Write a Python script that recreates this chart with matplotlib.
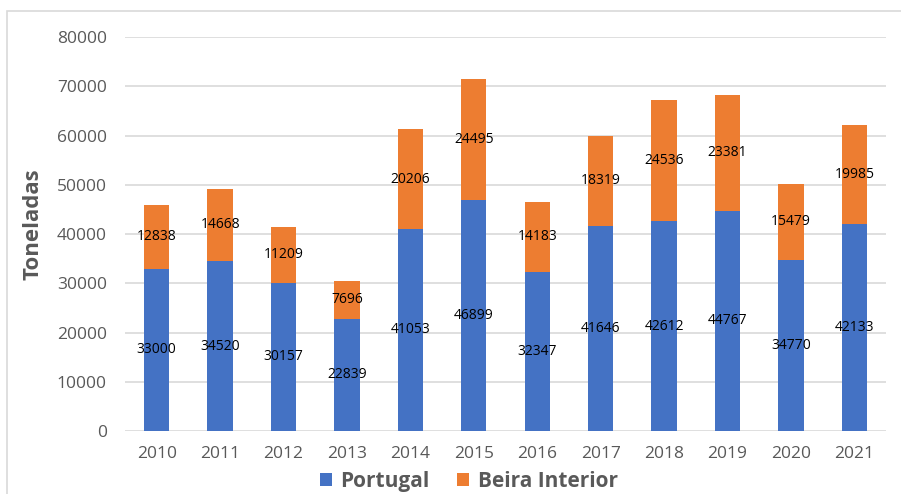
import matplotlib.pyplot as plt
from matplotlib.patches import Rectangle

years = ["2010", "2011", "2012", "2013", "2014", "2015",
         "2016", "2017", "2018", "2019", "2020", "2021"]
portugal = [33000, 34520, 30157, 22839, 41053, 46899,
            32347, 41646, 42612, 44767, 34770, 42133]
beira = [12838, 14668, 11209, 7696, 20206, 24495,
         14183, 18319, 24536, 23381, 15479, 19985]

blue = "#4472C4"
orange = "#ED7D31"
gray = "#595959"

plt.rcParams["font.family"] = ["Open Sans", "DejaVu Sans"]

fig = plt.figure(figsize=(9.01, 4.94), dpi=100)
ax = fig.add_axes([0.1387, 0.1275, 0.8447, 0.7975])

x = range(len(years))
b1 = ax.bar(x, portugal, width=0.4, color=blue, label="Portugal", zorder=3)
b2 = ax.bar(x, beira, width=0.4, bottom=portugal, color=orange,
            label="Beira Interior", zorder=3)

# data labels centred in each segment
for i in x:
    ax.text(i, portugal[i] / 2, str(portugal[i]), ha="center", va="center",
            fontsize=10, color="black", zorder=4)
    ax.text(i, portugal[i] + beira[i] / 2, str(beira[i]), ha="center",
            va="center", fontsize=10, color="black", zorder=4)

ax.set_xlim(-0.5, len(years) - 0.5)
ax.set_ylim(0, 80000)
ax.set_yticks(range(0, 80001, 10000))
ax.set_xticks(list(x))
ax.set_xticklabels(years)
ax.tick_params(axis="both", length=0, colors=gray, labelsize=12.5)
ax.tick_params(axis="y", pad=13)
ax.tick_params(axis="x", pad=11)
ax.grid(axis="y", color="#D9D9D9", linewidth=1.2, zorder=0)
for s in ax.spines.values():
    s.set_visible(False)

fig.text(33 / 901, 1 - 224 / 494, "Toneladas", rotation=90, ha="center",
         va="center", fontsize=16, fontweight="bold", color=gray)

fig.legend(handles=[b1, b2], loc="center", bbox_to_anchor=(0.52, 0.026),
           ncol=2, frameon=False, prop={"size": 15, "weight": "bold"},
           labelcolor=gray, handlelength=0.6, handleheight=0.6,
           columnspacing=1.3, handletextpad=0.4)

fig.patches.append(Rectangle((7 / 901, -0.05), 1.1, 1 - 11 / 494 + 0.05,
                             transform=fig.transFigure, fill=False,
                             edgecolor="#D9D9D9", linewidth=1.2))

fig.savefig("out.png", dpi=100)
